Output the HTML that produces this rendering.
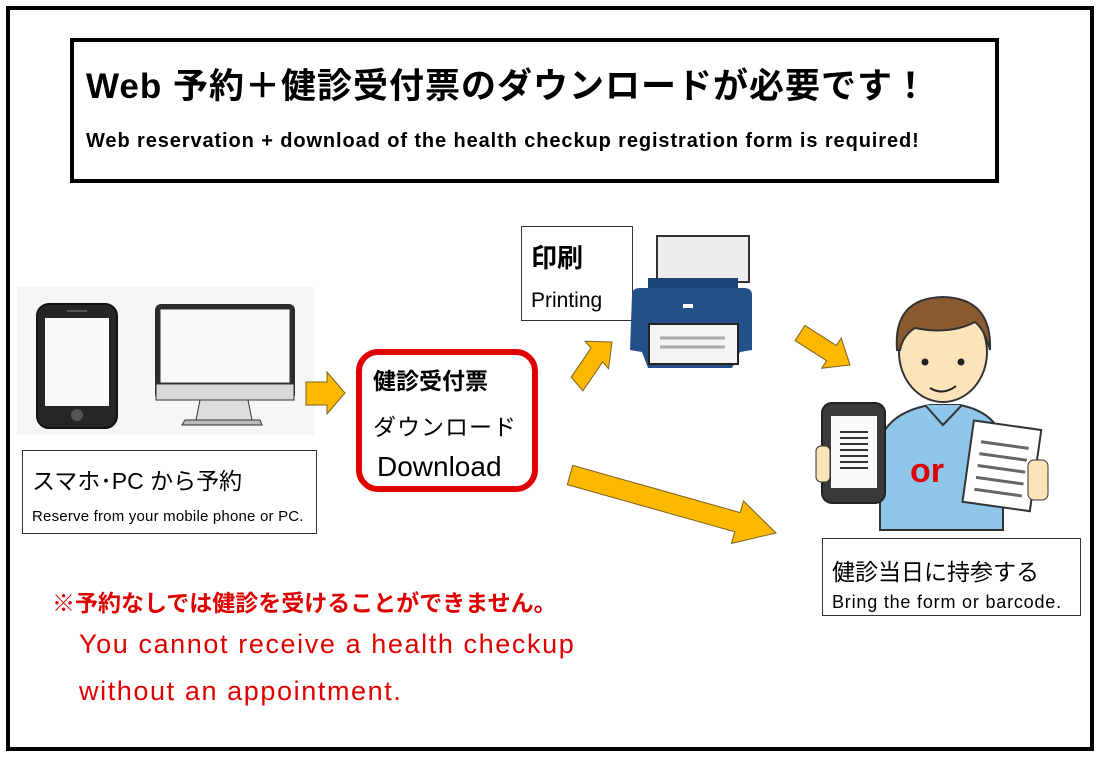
<!DOCTYPE html>
<html><head><meta charset="utf-8"><style>
body{margin:0;width:1101px;height:757px;background:#fff;position:relative;overflow:hidden;font-family:"Liberation Sans","Noto Sans CJK JP",sans-serif}
.a{position:absolute;white-space:nowrap}
.box{position:absolute;border:1px solid #333;background:#fff}
</style></head><body>
<div class="a" style="left:6px;top:6px;width:1080px;height:737px;border:4px solid #000"></div>
<div class="a" style="left:70px;top:38px;width:921px;height:137px;border:4px solid #000"></div>
<div class="a" style="left:86px;top:58px;font-size:35px;font-weight:bold;color:#000;letter-spacing:1px">Web 予約＋健診受付票のダウンロードが必要です！</div>
<div class="a" style="left:86px;top:130px;font-size:20px;font-weight:bold;color:#000;letter-spacing:0.9px">Web reservation + download of the health checkup registration form is required!</div>

<div class="a" style="left:17px;top:287px;width:297px;height:148px;background:#f6f6f6"></div>

<div class="box" style="left:22px;top:450px;width:293px;height:82px"></div>
<div class="a" style="left:32px;top:462px;font-size:23px">スマホ･PC から予約</div>
<div class="a" style="left:32px;top:508px;font-size:15px;letter-spacing:0.2px">Reserve from your mobile phone or PC.</div>

<div class="a" style="left:356px;top:349px;width:170px;height:131px;border:6px solid #e00000;border-radius:22px"></div>
<div class="a" style="left:373px;top:362px;font-size:23px;font-weight:bold">健診受付票</div>
<div class="a" style="left:373px;top:408px;font-size:23px;letter-spacing:1px">ダウンロード</div>
<div class="a" style="left:377px;top:451px;font-size:28px">Download</div>

<div class="box" style="left:521px;top:226px;width:110px;height:93px"></div>
<div class="a" style="left:531px;top:238px;font-size:26px;font-weight:bold">印刷</div>
<div class="a" style="left:531px;top:289px;font-size:21px">Printing</div>

<div class="box" style="left:822px;top:538px;width:257px;height:76px"></div>
<div class="a" style="left:832px;top:553px;font-size:23px">健診当日に持参する</div>
<div class="a" style="left:832px;top:592px;font-size:18px;letter-spacing:0.8px">Bring the form or barcode.</div>

<div class="a" style="left:52px;top:584px;font-size:23px;color:#e00000;font-weight:bold">※予約なしでは健診を受けることができません。</div>
<div class="a" style="left:79px;top:629px;font-size:27px;color:#e00000;letter-spacing:1.6px">You cannot receive a health checkup</div>
<div class="a" style="left:79px;top:676px;font-size:27px;color:#e00000;letter-spacing:1.6px">without an appointment.</div>

<svg class="a" style="left:0;top:0" width="1101" height="757">
<rect x="37" y="304" width="80" height="124" rx="12" fill="#262626" stroke="#111" stroke-width="2"/>
<rect x="45" y="318" width="64" height="88" fill="#fafafa"/>
<circle cx="77" cy="415" r="6" fill="#555"/>
<line x1="67" y1="311" x2="87" y2="311" stroke="#555" stroke-width="2"/>
<rect x="155" y="304" width="140" height="96" rx="6" fill="#2b2b2b"/>
<rect x="160" y="309" width="130" height="74" fill="#fafafa" stroke="#333"/>
<rect x="156" y="384" width="138" height="16" fill="#d8d8d8" stroke="#333"/>
<path d="M200 400 L248 400 L252 420 L196 420 Z" fill="#ddd" stroke="#333"/>
<path d="M185 420 L260 420 L262 425 L182 425 Z" fill="#bbb" stroke="#333"/>
<polygon points="306,382 327,382 327,372 345,393 327,414 327,405 306,405" fill="#fcb900" stroke="#7a6020" stroke-width="1"/>
<polygon points="571.2,377.2 591,348.2 585.1,341.3 612,342 608.5,368.7 602.7,361.8 582.9,390.8" fill="#fcb900" stroke="#7a6020" stroke-width="1"/>
<polygon points="804.9,325.4 836.4,345.5 841.2,338 850,365 821.8,368.2 826.6,360.7 795.1,340.6" fill="#fcb900" stroke="#7a6020" stroke-width="1"/>
<polygon points="572.7,465.4 740.2,512.6 743.5,501 776,533 731.5,543.4 734.8,531.8 567.3,484.6" fill="#fcb900" stroke="#7a6020" stroke-width="1"/>
<rect x="657" y="236" width="92" height="46" fill="#eee" stroke="#333" stroke-width="2"/>
<rect x="648" y="278" width="90" height="10" fill="#1d4478"/>
<path d="M632 295 Q632 288 640 288 L744 288 Q752 288 752 295 L752 350 L740 352 L732 368 L648 368 L642 352 L630 350 Z" fill="#24508a"/>
<rect x="683" y="304" width="10" height="4" fill="#fff"/>
<rect x="649" y="324" width="89" height="40" fill="#f4f4f4" stroke="#222" stroke-width="2"/>
<line x1="660" y1="338" x2="725" y2="338" stroke="#aaa" stroke-width="3"/>
<line x1="660" y1="347" x2="725" y2="347" stroke="#aaa" stroke-width="3"/>
<path d="M880 530 L880 440 Q890 412 930 405 L960 405 Q995 412 1003 440 L1003 530 Z" fill="#8ec6ea" stroke="#333" stroke-width="2"/>
<path d="M925 405 L943 425 L962 405" fill="#8ec6ea" stroke="#333" stroke-width="2"/>
<ellipse cx="943" cy="352" rx="44" ry="50" fill="#fde3b8" stroke="#333" stroke-width="2"/>
<path d="M897 350 Q893 298 943 297 Q992 298 990 350 Q985 330 975 322 Q950 335 915 328 Q903 335 900 350 Z" fill="#8a5a30" stroke="#333" stroke-width="2"/>
<circle cx="925" cy="362" r="3.5" fill="#222"/><circle cx="961" cy="362" r="3.5" fill="#222"/>
<path d="M930 388 Q943 396 956 386" fill="none" stroke="#222" stroke-width="2"/>
<rect x="822" y="403" width="63" height="100" rx="10" fill="#3a3a3a" stroke="#222" stroke-width="2"/>
<rect x="831" y="416" width="46" height="72" fill="#fafafa"/>
<g stroke="#333" stroke-width="2"><line x1="840" y1="432" x2="868" y2="432"/><line x1="840" y1="438" x2="868" y2="438"/><line x1="840" y1="444" x2="868" y2="444"/><line x1="840" y1="450" x2="868" y2="450"/><line x1="840" y1="456" x2="868" y2="456"/><line x1="840" y1="462" x2="868" y2="462"/><line x1="840" y1="468" x2="868" y2="468"/></g>
<rect x="816" y="446" width="14" height="36" rx="5" fill="#fde3b8" stroke="#333"/>
<g transform="rotate(8 1003 465)">
<rect x="968" y="425" width="68" height="82" fill="#fff" stroke="#333" stroke-width="2"/>
<g stroke="#666" stroke-width="3"><line x1="978" y1="445" x2="1026" y2="445"/><line x1="978" y1="457" x2="1026" y2="457"/><line x1="978" y1="469" x2="1026" y2="469"/><line x1="978" y1="481" x2="1026" y2="481"/><line x1="978" y1="493" x2="1026" y2="493"/></g>
</g>
<rect x="1028" y="460" width="20" height="40" rx="6" fill="#fde3b8" stroke="#333"/>
<text x="910" y="482" font-family="Liberation Sans, sans-serif" font-size="34" font-weight="bold" fill="#e00000">or</text>
</svg>
</body></html>
